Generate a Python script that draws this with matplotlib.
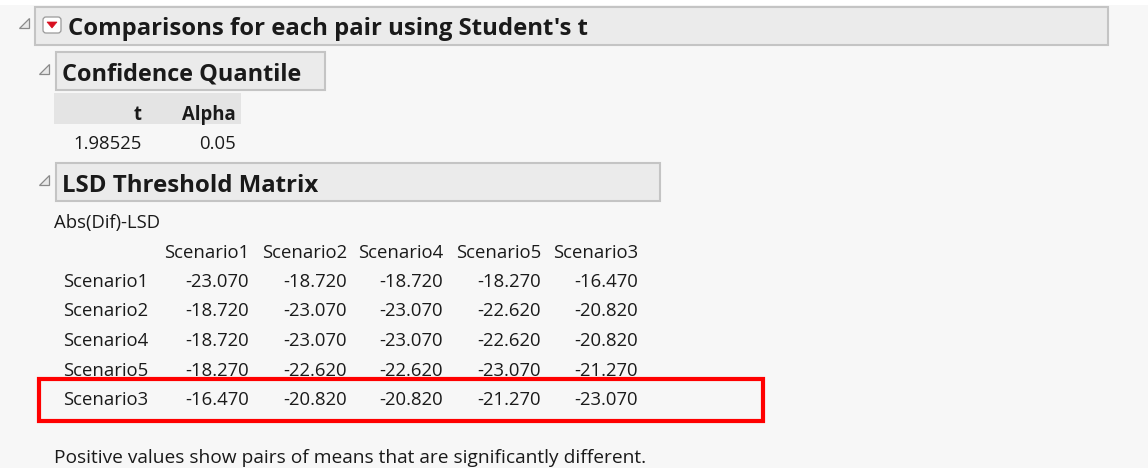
import matplotlib
matplotlib.use("Agg")
import matplotlib.pyplot as plt
from matplotlib.patches import Rectangle, Polygon, FancyBboxPatch

# ---- data ----
title_main = "Comparisons for each pair using Student's t"
title_quantile = "Confidence Quantile"
title_lsd = "LSD Threshold Matrix"
quantile_headers = ["t", "Alpha"]
quantile_values = ["1.98525", "0.05"]
matrix_label = "Abs(Dif)-LSD"
col_labels = ["Scenario1", "Scenario2", "Scenario4", "Scenario5", "Scenario3"]
row_labels = ["Scenario1", "Scenario2", "Scenario4", "Scenario5", "Scenario3"]
matrix_values = [
    [-23.070, -18.720, -18.720, -18.270, -16.470],
    [-18.720, -23.070, -23.070, -22.620, -20.820],
    [-18.720, -23.070, -23.070, -22.620, -20.820],
    [-18.270, -22.620, -22.620, -23.070, -21.270],
    [-16.470, -20.820, -20.820, -21.270, -23.070],
]
footer = "Positive values show pairs of means that are significantly different."

W, H = 1148, 468
fig = plt.figure(figsize=(W / 100, H / 100), dpi=100)
fig.patch.set_facecolor("#f7f7f7")
ax = fig.add_axes([0, 0, 1, 1])
ax.set_xlim(0, W)
ax.set_ylim(H, 0)
ax.axis("off")
ax.set_facecolor("#f7f7f7")

FONT = "Open Sans"
renderer = fig.canvas.get_renderer()


def fit_size(s, target_px, weight="normal"):
    t = ax.text(0, 0, s, fontsize=10, family=FONT, weight=weight)
    w = t.get_window_extent(renderer=renderer).width
    t.remove()
    return 10 * target_px / w


# top white strip
ax.add_patch(Rectangle((0, 0), W, 5, facecolor="white", edgecolor="none"))


def header_box(x0, y0, x1, y1):
    ax.add_patch(Rectangle((x0, y0), x1 - x0, y1 - y0, facecolor="#ebebeb",
                           edgecolor="#c4c4c4", lw=1.5))


def disclosure(x, y, s=10):
    ax.add_patch(Polygon([(x, y + s), (x + s, y + s), (x + s, y)], closed=True,
                         facecolor="#e8e8e8", edgecolor="#8a8a8a", lw=0.9))


# Main header
header_box(35, 7, 1108, 45)
disclosure(19, 18, 10)
ax.add_patch(FancyBboxPatch((43, 17), 18, 16, boxstyle="round,pad=0,rounding_size=3",
                            facecolor="white", edgecolor="#9a9a9a", lw=0.9))
ax.add_patch(Polygon([(47, 22), (57, 22), (52, 28)], closed=True,
                     facecolor="#d81020", edgecolor="#d81020", lw=0.5))
fs_main = fit_size(title_main, 520, "bold")
ax.text(68, 35, title_main, fontsize=fs_main, family=FONT, weight="bold",
        color="#1a1a1a", va="baseline", ha="left")

# Confidence Quantile header
header_box(56, 52, 325, 90)
disclosure(39, 64, 10)
fs_q = fit_size(title_quantile, 240, "bold")
ax.text(62, 81, title_quantile, fontsize=fs_q, family=FONT, weight="bold",
        color="#1a1a1a", va="baseline", ha="left")

# Body font size
fs_body = fit_size("Scenario1", 85)

# quantile table
ax.add_patch(Rectangle((54, 93), 187, 31, facecolor="#e4e4e4", edgecolor="none"))
q_right = [142, 236]
for xr, h, v in zip(q_right, quantile_headers, quantile_values):
    ax.text(xr, 120, h, fontsize=fs_body, family=FONT, weight="bold",
            color="#1a1a1a", ha="right", va="baseline")
    ax.text(xr, 149, v, fontsize=fs_body, family=FONT, color="#1a1a1a",
            ha="right", va="baseline")

# LSD header
header_box(56, 163, 660, 201)
disclosure(39, 175, 10)
fs_l = fit_size(title_lsd, 256, "bold")
ax.text(62, 192, title_lsd, fontsize=fs_l, family=FONT, weight="bold",
        color="#1a1a1a", va="baseline", ha="left")

ax.text(54, 228, matrix_label, fontsize=fs_body, family=FONT, color="#1a1a1a",
        ha="left", va="baseline")

col_right = [249, 347, 443, 541, 638]
for xr, c in zip(col_right, col_labels):
    ax.text(xr, 258, c, fontsize=fs_body, family=FONT, color="#1a1a1a",
            ha="right", va="baseline")

row_base = [287, 316.5, 346, 375.5, 405]
for yb, rl, vals in zip(row_base, row_labels, matrix_values):
    ax.text(63, yb, rl, fontsize=fs_body, family=FONT, color="#1a1a1a",
            ha="left", va="baseline")
    for xr, v in zip(col_right, vals):
        ax.text(xr, yb, f"{v:.3f}", fontsize=fs_body, family=FONT,
                color="#1a1a1a", ha="right", va="baseline")

# red highlight box
ax.add_patch(Rectangle((39, 379), 724, 42, facecolor="none", edgecolor="#ff0000",
                       lw=3.0))

fs_f = fit_size(footer, 594)
ax.text(54, 463, footer, fontsize=fs_f, family=FONT, color="#1a1a1a",
        ha="left", va="baseline")

fig.savefig("out.png", dpi=100, facecolor=fig.get_facecolor())
